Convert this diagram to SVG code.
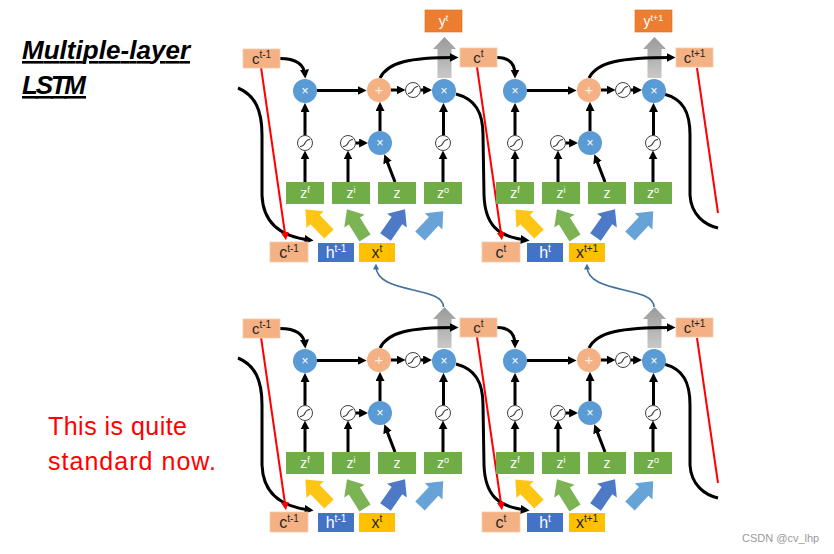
<svg xmlns="http://www.w3.org/2000/svg" xmlns:xlink="http://www.w3.org/1999/xlink" width="834" height="554" viewBox="0 0 834 554">
<defs>
<style>
.mul{fill:#5B9BD5}
.add{fill:#F4B183}
.sig{fill:#fff;stroke:#404040;stroke-width:1}
.sc{fill:none;stroke:#303030;stroke-width:1.1}
.op{font-family:"Liberation Sans",Arial,sans-serif;font-size:12px;fill:#fff;text-anchor:middle}
.plus{font-size:15px;fill-opacity:0.75}
.z{fill:#70AD47}
.cbox{fill:#F4B183;stroke:#F8CBAD;stroke-width:0.8}
.hbox{fill:#4472C4}
.xbox{fill:#FFC000}
.ybox{fill:#ED7D31;stroke:#E46C0A;stroke-width:0.6}
.lbl{font-family:"Liberation Sans",Arial,sans-serif;font-size:16px;text-anchor:middle}
.tl{font-family:"Liberation Sans",Arial,sans-serif;font-size:15px;text-anchor:middle;fill:#262626}
.dark{fill:#262626}
.white{fill:#fff}
.zl{font-family:"Liberation Sans",Arial,sans-serif;font-size:14px;text-anchor:middle;fill:#fff}
.yl{font-family:"Liberation Sans",Arial,sans-serif;font-size:14px;text-anchor:middle;fill:#fff}
.sp{font-size:10px}
.sp9{font-size:9px}
.blk{fill:none;stroke:#000;stroke-width:3}
.arr{marker-end:url(#ab)}
.red{fill:none;stroke:#FF0000;stroke-width:2}
.redA{marker-end:url(#ar)}
.blue{fill:none;stroke:#41719C;stroke-width:1.6;marker-end:url(#abl)}
</style>
<marker id="ab" viewBox="0 0 10 10" refX="6" refY="5" markerWidth="9" markerHeight="9" markerUnits="userSpaceOnUse" orient="auto"><path d="M0,0 L10,5 L0,10 Z" fill="#000"/></marker>
<marker id="ar" viewBox="0 0 10 10" refX="6" refY="5" markerWidth="8" markerHeight="8" markerUnits="userSpaceOnUse" orient="auto"><path d="M0,0 L10,5 L0,10 Z" fill="#FF0000"/></marker>
<marker id="abl" viewBox="0 0 10 10" refX="6" refY="5" markerWidth="6" markerHeight="6" markerUnits="userSpaceOnUse" orient="auto"><path d="M0,0 L10,5 L0,10 Z" fill="#41719C"/></marker>
<path id="fat" d="M-6.5,0 L-6.5,-20 L-12,-20 L0,-34 L12,-20 L6.5,-20 L6.5,0 Z"/>
<linearGradient id="gg" x1="0" y1="0" x2="0" y2="1"><stop offset="0" stop-color="#9A9A9A"/><stop offset="1" stop-color="#C9C9C9"/></linearGradient>
<g id="cellEdges">
<path class="blk arr" d="M317,90.5 L363,90.5"/>
<path class="blk arr" d="M391,90 L402,90"/>
<path class="blk arr" d="M420.5,90 L428.5,90"/>
<path class="blk arr" d="M305,135.5 L305,106.5"/>
<path class="blk arr" d="M380,131 L380,105.5"/>
<path class="blk arr" d="M443.5,135.5 L443.5,106.5"/>
<path class="blk arr" d="M355.5,143 L364.5,143"/>
<path class="blk arr" d="M305,182 L305,154"/>
<path class="blk arr" d="M348,182 L348,154"/>
<path class="blk arr" d="M395,182 L385.6,157.6"/>
<path class="blk arr" d="M443,182 L443,154"/>
<use xlink:href="#fat" href="#fat" transform="translate(329,234) rotate(-44)" fill="#FFC000" fill-opacity="0.92"/>
<use xlink:href="#fat" href="#fat" transform="translate(365,238) rotate(-32)" fill="#70AD47" fill-opacity="0.92"/>
<use xlink:href="#fat" href="#fat" transform="translate(385.5,237) rotate(35)" fill="#4472C4" fill-opacity="0.95"/>
<use xlink:href="#fat" href="#fat" transform="translate(420,236) rotate(43)" fill="#5B9BD5" fill-opacity="0.92"/>
<path d="M437.5,78 L437.5,49 L433,49 L444.5,37 L456,49 L451.5,49 L451.5,78 Z" fill="url(#gg)"/>
</g>
</defs>
<rect width="834" height="554" fill="#fff"/>

<g id="connectors">
<use xlink:href="#cellEdges" href="#cellEdges"/>
<use xlink:href="#cellEdges" href="#cellEdges" transform="translate(210,0)"/>
<use xlink:href="#cellEdges" href="#cellEdges" transform="translate(0,270)"/>
<use xlink:href="#cellEdges" href="#cellEdges" transform="translate(210,270)"/>
<g id="upper-edges">
<path class="blk arr" d="M280,58.5 C295,58.5 304,64 305,75"/>
<path class="blk arr" d="M497,57.5 C510,57.5 515,64 515,75"/>
<path class="blk arr" d="M380,78 C388,62 410,57.5 455,57.5"/>
<path class="blk arr" d="M589,78 C597,62 620,57.5 672,57.5"/>
<path class="blk arr" d="M238,88 C255,95 262,110 262,135 L262,195 C263,225 283,237 310,240"/>
<path class="blk arr" d="M456,94 C475,99 483,112 483,135 L484,195 C485,225 498,237 526,240"/>
<path class="blk" d="M664,94 C683,99 690,112 690,135 L690,195 C691,215 705,225 718,228"/>
<path class="red redA" d="M261,67 L285.5,237"/>
<path class="red redA" d="M477,67 L501.5,237"/>
<path class="red" d="M697,68 L718,213"/>
</g>
<g id="lower-edges" transform="translate(0,270)">
<path class="blk arr" d="M280,58.5 C295,58.5 304,64 305,75"/>
<path class="blk arr" d="M497,57.5 C510,57.5 515,64 515,75"/>
<path class="blk arr" d="M380,78 C388,62 410,57.5 455,57.5"/>
<path class="blk arr" d="M589,78 C597,62 620,57.5 672,57.5"/>
<path class="blk arr" d="M238,88 C255,95 262,110 262,135 L262,195 C263,225 283,237 310,240"/>
<path class="blk arr" d="M456,94 C475,99 483,112 483,135 L484,195 C485,225 498,237 526,240"/>
<path class="blk" d="M664,94 C683,99 690,112 690,135 L690,195 C691,215 705,225 718,228"/>
<path class="red redA" d="M261,67 L285.5,237"/>
<path class="red redA" d="M477,67 L501.5,237"/>
<path class="red" d="M697,68 L718,213"/>
</g>
<g id="layer-links">
<path class="blue" d="M443.5,307 C443.5,285 376,295 376,266"/>
<path class="blue" d="M654,307 C654,285 587,295 587,266"/>
</g>
</g>

<g id="u-c0"><rect class="cbox" x="243" y="49" width="37" height="19"/><text class="tl" x="261.5" y="64">c<tspan class="sp" dy="-6">t-1</tspan></text></g>
<g id="u-c1"><rect class="cbox" x="460" y="48" width="37" height="19"/><text class="tl" x="478.5" y="63">c<tspan class="sp" dy="-6">t</tspan></text></g>
<g id="u-c2"><rect class="cbox" x="676" y="48" width="37" height="19"/><text class="tl" x="694.5" y="63">c<tspan class="sp" dy="-6">t+1</tspan></text></g>
<g id="d-c0"><rect class="cbox" x="243" y="319" width="37" height="19"/><text class="tl" x="261.5" y="334">c<tspan class="sp" dy="-6">t-1</tspan></text></g>
<g id="d-c1"><rect class="cbox" x="460" y="318" width="37" height="19"/><text class="tl" x="478.5" y="333">c<tspan class="sp" dy="-6">t</tspan></text></g>
<g id="d-c2"><rect class="cbox" x="676" y="318" width="37" height="19"/><text class="tl" x="694.5" y="333">c<tspan class="sp" dy="-6">t+1</tspan></text></g>

<g id="cell-u1">
<g id="u1-mulF"><circle class="mul" cx="305" cy="91" r="12"/><text class="op" x="305" y="95">×</text></g>
<g id="u1-add"><circle class="add" cx="379" cy="90" r="12"/><text class="op plus" x="379" y="95">+</text></g>
<g id="u1-sigC"><circle class="sig" cx="413" cy="90" r="7.5"/><path class="sc" d="M408,93.5 C414.5,93.5 411.5,86.5 418,86.5"/></g>
<g id="u1-mulO"><circle class="mul" cx="444" cy="91" r="12"/><text class="op" x="444" y="95">×</text></g>
<g id="u1-sigF"><circle class="sig" cx="305" cy="143" r="7.5"/><path class="sc" d="M300,146.5 C306.5,146.5 303.5,139.5 310,139.5"/></g>
<g id="u1-sigI"><circle class="sig" cx="348" cy="143" r="7.5"/><path class="sc" d="M343,146.5 C349.5,146.5 346.5,139.5 353,139.5"/></g>
<g id="u1-mulI"><circle class="mul" cx="380" cy="143" r="12"/><text class="op" x="380" y="147">×</text></g>
<g id="u1-sigO"><circle class="sig" cx="443" cy="143" r="7.5"/><path class="sc" d="M438,146.5 C444.5,146.5 441.5,139.5 448,139.5"/></g>
<g id="u1-zf"><rect class="z" x="286" y="182" width="38" height="22"/><text class="zl" x="305" y="198">z<tspan class="sp9" dy="-5">f</tspan></text></g>
<g id="u1-zi"><rect class="z" x="332" y="182" width="38" height="22"/><text class="zl" x="351" y="198">z<tspan class="sp9" dy="-5">i</tspan></text></g>
<g id="u1-z"><rect class="z" x="378" y="182" width="38" height="22"/><text class="zl" x="397" y="198">z</text></g>
<g id="u1-zo"><rect class="z" x="424" y="182" width="38" height="22"/><text class="zl" x="443" y="198">z<tspan class="sp9" dy="-5">o</tspan></text></g>
<g id="u1-c"><rect class="cbox" x="270" y="242" width="38" height="20"/><text class="lbl dark" x="289" y="258">c<tspan class="sp" dy="-6.5">t-1</tspan></text></g>
<g id="u1-h"><rect class="hbox" x="318" y="243" width="36" height="19"/><text class="lbl white" x="336" y="258">h<tspan class="sp" dy="-6.5">t-1</tspan></text></g>
<g id="u1-x"><rect class="xbox" x="359" y="243" width="36" height="19"/><text class="lbl dark" x="377" y="258">x<tspan class="sp" dy="-6.5">t</tspan></text></g>
<g id="u1-y"><rect class="ybox" x="425" y="10" width="37" height="22"/><text class="yl" x="443.5" y="26">y<tspan class="sp9" dy="-5">t</tspan></text></g>
</g>

<g id="cell-u2" transform="translate(210,0)">
<g id="u2-mulF"><circle class="mul" cx="305" cy="91" r="12"/><text class="op" x="305" y="95">×</text></g>
<g id="u2-add"><circle class="add" cx="379" cy="90" r="12"/><text class="op plus" x="379" y="95">+</text></g>
<g id="u2-sigC"><circle class="sig" cx="413" cy="90" r="7.5"/><path class="sc" d="M408,93.5 C414.5,93.5 411.5,86.5 418,86.5"/></g>
<g id="u2-mulO"><circle class="mul" cx="444" cy="91" r="12"/><text class="op" x="444" y="95">×</text></g>
<g id="u2-sigF"><circle class="sig" cx="305" cy="143" r="7.5"/><path class="sc" d="M300,146.5 C306.5,146.5 303.5,139.5 310,139.5"/></g>
<g id="u2-sigI"><circle class="sig" cx="348" cy="143" r="7.5"/><path class="sc" d="M343,146.5 C349.5,146.5 346.5,139.5 353,139.5"/></g>
<g id="u2-mulI"><circle class="mul" cx="380" cy="143" r="12"/><text class="op" x="380" y="147">×</text></g>
<g id="u2-sigO"><circle class="sig" cx="443" cy="143" r="7.5"/><path class="sc" d="M438,146.5 C444.5,146.5 441.5,139.5 448,139.5"/></g>
<g id="u2-zf"><rect class="z" x="286" y="182" width="38" height="22"/><text class="zl" x="305" y="198">z<tspan class="sp9" dy="-5">f</tspan></text></g>
<g id="u2-zi"><rect class="z" x="332" y="182" width="38" height="22"/><text class="zl" x="351" y="198">z<tspan class="sp9" dy="-5">i</tspan></text></g>
<g id="u2-z"><rect class="z" x="378" y="182" width="38" height="22"/><text class="zl" x="397" y="198">z</text></g>
<g id="u2-zo"><rect class="z" x="424" y="182" width="38" height="22"/><text class="zl" x="443" y="198">z<tspan class="sp9" dy="-5">o</tspan></text></g>
<g id="u2-c"><rect class="cbox" x="272" y="242" width="38" height="20"/><text class="lbl dark" x="291" y="258">c<tspan class="sp" dy="-6.5">t</tspan></text></g>
<g id="u2-h"><rect class="hbox" x="317" y="243" width="36" height="19"/><text class="lbl white" x="335" y="258">h<tspan class="sp" dy="-6.5">t</tspan></text></g>
<g id="u2-x"><rect class="xbox" x="359" y="243" width="36" height="19"/><text class="lbl dark" x="377" y="258">x<tspan class="sp" dy="-6.5">t+1</tspan></text></g>
<g id="u2-y"><rect class="ybox" x="425" y="10" width="37" height="22"/><text class="yl" x="443.5" y="26">y<tspan class="sp9" dy="-5">t+1</tspan></text></g>
</g>

<g id="cell-d1" transform="translate(0,270)">
<g id="d1-mulF"><circle class="mul" cx="305" cy="91" r="12"/><text class="op" x="305" y="95">×</text></g>
<g id="d1-add"><circle class="add" cx="379" cy="90" r="12"/><text class="op plus" x="379" y="95">+</text></g>
<g id="d1-sigC"><circle class="sig" cx="413" cy="90" r="7.5"/><path class="sc" d="M408,93.5 C414.5,93.5 411.5,86.5 418,86.5"/></g>
<g id="d1-mulO"><circle class="mul" cx="444" cy="91" r="12"/><text class="op" x="444" y="95">×</text></g>
<g id="d1-sigF"><circle class="sig" cx="305" cy="143" r="7.5"/><path class="sc" d="M300,146.5 C306.5,146.5 303.5,139.5 310,139.5"/></g>
<g id="d1-sigI"><circle class="sig" cx="348" cy="143" r="7.5"/><path class="sc" d="M343,146.5 C349.5,146.5 346.5,139.5 353,139.5"/></g>
<g id="d1-mulI"><circle class="mul" cx="380" cy="143" r="12"/><text class="op" x="380" y="147">×</text></g>
<g id="d1-sigO"><circle class="sig" cx="443" cy="143" r="7.5"/><path class="sc" d="M438,146.5 C444.5,146.5 441.5,139.5 448,139.5"/></g>
<g id="d1-zf"><rect class="z" x="286" y="182" width="38" height="22"/><text class="zl" x="305" y="198">z<tspan class="sp9" dy="-5">f</tspan></text></g>
<g id="d1-zi"><rect class="z" x="332" y="182" width="38" height="22"/><text class="zl" x="351" y="198">z<tspan class="sp9" dy="-5">i</tspan></text></g>
<g id="d1-z"><rect class="z" x="378" y="182" width="38" height="22"/><text class="zl" x="397" y="198">z</text></g>
<g id="d1-zo"><rect class="z" x="424" y="182" width="38" height="22"/><text class="zl" x="443" y="198">z<tspan class="sp9" dy="-5">o</tspan></text></g>
<g id="d1-c"><rect class="cbox" x="270" y="242" width="38" height="20"/><text class="lbl dark" x="289" y="258">c<tspan class="sp" dy="-6.5">t-1</tspan></text></g>
<g id="d1-h"><rect class="hbox" x="318" y="243" width="36" height="19"/><text class="lbl white" x="336" y="258">h<tspan class="sp" dy="-6.5">t-1</tspan></text></g>
<g id="d1-x"><rect class="xbox" x="359" y="243" width="36" height="19"/><text class="lbl dark" x="377" y="258">x<tspan class="sp" dy="-6.5">t</tspan></text></g>
</g>

<g id="cell-d2" transform="translate(210,270)">
<g id="d2-mulF"><circle class="mul" cx="305" cy="91" r="12"/><text class="op" x="305" y="95">×</text></g>
<g id="d2-add"><circle class="add" cx="379" cy="90" r="12"/><text class="op plus" x="379" y="95">+</text></g>
<g id="d2-sigC"><circle class="sig" cx="413" cy="90" r="7.5"/><path class="sc" d="M408,93.5 C414.5,93.5 411.5,86.5 418,86.5"/></g>
<g id="d2-mulO"><circle class="mul" cx="444" cy="91" r="12"/><text class="op" x="444" y="95">×</text></g>
<g id="d2-sigF"><circle class="sig" cx="305" cy="143" r="7.5"/><path class="sc" d="M300,146.5 C306.5,146.5 303.5,139.5 310,139.5"/></g>
<g id="d2-sigI"><circle class="sig" cx="348" cy="143" r="7.5"/><path class="sc" d="M343,146.5 C349.5,146.5 346.5,139.5 353,139.5"/></g>
<g id="d2-mulI"><circle class="mul" cx="380" cy="143" r="12"/><text class="op" x="380" y="147">×</text></g>
<g id="d2-sigO"><circle class="sig" cx="443" cy="143" r="7.5"/><path class="sc" d="M438,146.5 C444.5,146.5 441.5,139.5 448,139.5"/></g>
<g id="d2-zf"><rect class="z" x="286" y="182" width="38" height="22"/><text class="zl" x="305" y="198">z<tspan class="sp9" dy="-5">f</tspan></text></g>
<g id="d2-zi"><rect class="z" x="332" y="182" width="38" height="22"/><text class="zl" x="351" y="198">z<tspan class="sp9" dy="-5">i</tspan></text></g>
<g id="d2-z"><rect class="z" x="378" y="182" width="38" height="22"/><text class="zl" x="397" y="198">z</text></g>
<g id="d2-zo"><rect class="z" x="424" y="182" width="38" height="22"/><text class="zl" x="443" y="198">z<tspan class="sp9" dy="-5">o</tspan></text></g>
<g id="d2-c"><rect class="cbox" x="272" y="242" width="38" height="20"/><text class="lbl dark" x="291" y="258">c<tspan class="sp" dy="-6.5">t</tspan></text></g>
<g id="d2-h"><rect class="hbox" x="317" y="243" width="36" height="19"/><text class="lbl white" x="335" y="258">h<tspan class="sp" dy="-6.5">t</tspan></text></g>
<g id="d2-x"><rect class="xbox" x="359" y="243" width="36" height="19"/><text class="lbl dark" x="377" y="258">x<tspan class="sp" dy="-6.5">t+1</tspan></text></g>
</g>

<g id="titles">
<text x="22" y="59" font-family="Liberation Sans, Arial, sans-serif" font-weight="bold" font-style="italic" font-size="26" text-decoration="underline" textLength="168" fill="#000">Multiple-layer</text>
<text x="22" y="94" font-family="Liberation Sans, Arial, sans-serif" font-weight="bold" font-style="italic" font-size="26" text-decoration="underline" textLength="64" fill="#000">LSTM</text>
<text x="48" y="435" font-family="Liberation Sans, Arial, sans-serif" font-size="25" textLength="139" fill="#FF0000">This is quite</text>
<text x="48" y="470" font-family="Liberation Sans, Arial, sans-serif" font-size="25" textLength="168" fill="#FF0000">standard now.</text>
<text x="742" y="542" font-family="Liberation Sans, Arial, sans-serif" font-size="11" fill="#9A9A9A">CSDN @cv_lhp</text>
</g>
</svg>
